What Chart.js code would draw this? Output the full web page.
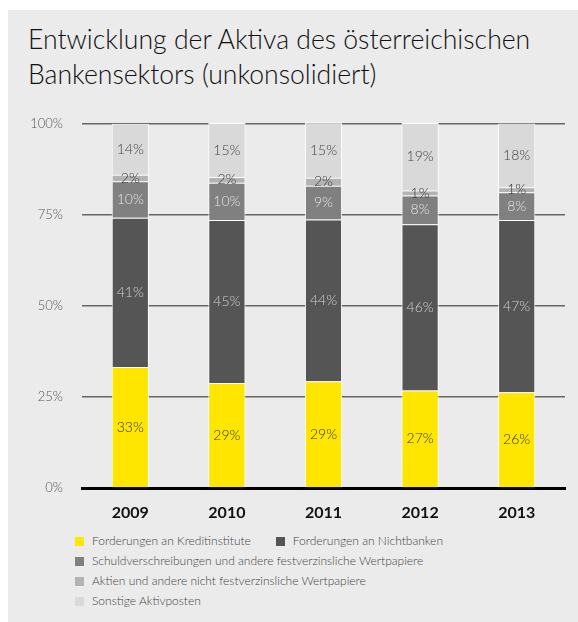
<!DOCTYPE html>
<html>
<head>
<meta charset="utf-8">
<script src="https://cdn.jsdelivr.net/npm/chart.js@4"></script>
<style>
  body { margin: 0; background: #fff; font-family: Lato, "Open Sans", sans-serif; }
  #panel { position: absolute; left: 8px; top: 10px; width: 570px; height: 612px; background: #ebebeb; }
  #title { position: absolute; left: 20px; top: 12px; margin: 0; font-weight: 300; font-size: 26.6px; line-height: 35px; color: #111; }
  #wrap { position: absolute; left: 0; top: 87px; width: 570px; height: 433px; }
  #legend { position: absolute; left: 67px; top: 521px; font-size: 12px; font-weight: 300; color: #444; }
  .row { height: 20px; line-height: 20px; white-space: nowrap; }
  .item { display: inline-block; margin-right: 25px; }
  .box { display: inline-block; width: 9px; height: 9px; margin-right: 8px; vertical-align: -1px; }
</style>
</head>
<body>
<div id="panel">
  <h1 id="title">Entwicklung der Aktiva des österreichischen<br>Bankensektors (unkonsolidiert)</h1>
  <div id="wrap"><canvas id="myChart" width="570" height="433"></canvas></div>
  <div id="legend"></div>
</div>
<script>
const years = ["2009", "2010", "2011", "2012", "2013"];
const seriesNames = [
    "Forderungen an Kreditinstitute",
    "Forderungen an Nichtbanken",
    "Schuldverschreibungen und andere festverzinsliche Wertpapiere",
    "Aktien und andere nicht festverzinsliche Wertpapiere",
    "Sonstige Aktivposten",
];
const kreditinstitute = [33.2, 28.8, 29.3, 26.8, 26.3];
const nichtbanken = [41.0, 44.8, 44.4, 45.6, 47.3];
const schuldverschreibungen = [10.0, 10.2, 9.3, 7.9, 7.6];
const aktien = [1.8, 1.6, 2.2, 1.4, 1.4];
const sonstige = [14.0, 14.8, 15.2, 18.5, 17.5];
const yTicks = [0, 25, 50, 75, 100];

const colors = ["#ffe600", "#555555", "#808080", "#b3b3b3", "#d9d9d9"];
const labelColors = ["#333333", "#d0d0d0", "#e4e4e4", "#333333", "#444444"];
const seriesValues = [kreditinstitute, nichtbanken, schuldverschreibungen, aktien, sonstige];

// Prozentwerte mittig in die Segmente schreiben
const segmentLabels = {
    id: "segmentLabels",
    afterDatasetsDraw(chart) {
        const c = chart.ctx;
        c.save();
        c.font = "300 14px Lato, 'Open Sans', sans-serif";
        c.textAlign = "center";
        c.textBaseline = "middle";
        chart.data.datasets.forEach((ds, i) => {
            chart.getDatasetMeta(i).data.forEach((bar, j) => {
                c.fillStyle = labelColors[i];
                c.fillText(Math.round(ds.data[j]) + "%", bar.x, (bar.y + bar.base) / 2);
            });
        });
        c.restore();
    },
};

const ctx = document.getElementById("myChart").getContext("2d");
const myChart = new Chart(ctx, {
    type: "bar",
    data: {
        labels: years,
        datasets: seriesValues.map((vals, i) => ({
            label: seriesNames[i],
            data: vals,
            backgroundColor: colors[i],
            borderColor: "#ffffff",
            borderWidth: 1,
            barPercentage: 0.385,
            categoryPercentage: 1,
            clip: false,
        })),
    },
    options: {
        responsive: false,
        animation: false,
        layout: { padding: { top: 20, right: 13, bottom: 0, left: 0 } },
        plugins: { legend: { display: false }, tooltip: { enabled: false } },
        scales: {
            x: {
                stacked: true,
                grid: { display: false },
                border: { color: "#000", width: 3 },
                ticks: { color: "#111", font: { family: "Lato", weight: "bold", size: 16 }, padding: 7 },
                afterFit: (s) => { s.height = 42; },
            },
            y: {
                stacked: true,
                min: 0,
                max: 100,
                afterBuildTicks: (s) => { s.ticks = yTicks.map((v) => ({ value: v })); },
                grid: { color: "#666", lineWidth: 1.5, drawTicks: false },
                border: { display: false },
                ticks: {
                    color: "#555",
                    font: { family: "Lato", weight: 300, size: 13 },
                    padding: 19,
                    callback: (v) => v + "%",
                },
                afterFit: (s) => { s.width = 74; },
            },
        },
    },
    plugins: [segmentLabels],
});

// HTML-Legende
const legendRows = [[0, 1], [2], [3], [4]];
document.getElementById("legend").innerHTML = legendRows.map((row) =>
    '<div class="row">' + row.map((i) =>
        '<span class="item"><span class="box" style="background:' + colors[i] + '"></span>' + seriesNames[i] + '</span>'
    ).join("") + '</div>'
).join("");
</script>
</body>
</html>
